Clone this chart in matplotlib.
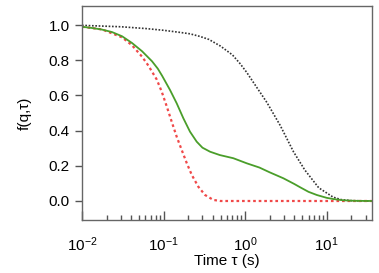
import matplotlib
matplotlib.use('Agg')
import matplotlib.pyplot as plt
import matplotlib.ticker as mticker

# values (tau in s, f(q,tau))
tau_green = [0.01, 0.0133, 0.0176, 0.0233, 0.031, 0.041, 0.0545, 0.0722, 0.085, 0.0959,
             0.12, 0.145, 0.175, 0.211, 0.255, 0.30, 0.372, 0.49, 0.718, 1.05,
             1.5, 2.0, 2.95, 4.0, 4.73, 6.0, 7.59, 10.0, 12.1, 16.0, 22.0, 36.0]
f_green = [0.99, 0.983, 0.974, 0.96, 0.936, 0.898, 0.851, 0.794, 0.752, 0.712,
           0.631, 0.555, 0.47, 0.394, 0.337, 0.303, 0.28, 0.261, 0.243, 0.214,
           0.19, 0.163, 0.129, 0.097, 0.078, 0.052, 0.034, 0.018, 0.011, 0.004, 0.001, 0.0]

tau_red = [0.01, 0.0176, 0.031, 0.041, 0.0545, 0.065, 0.0826, 0.095, 0.109, 0.126,
           0.145, 0.167, 0.193, 0.222, 0.267, 0.323, 0.408, 0.5, 36.0]
f_red = [0.99, 0.975, 0.93, 0.885, 0.82, 0.77, 0.69, 0.621, 0.54, 0.45,
         0.365, 0.29, 0.214, 0.148, 0.081, 0.034, 0.006, 0.0, 0.0]

tau_black = [0.01, 0.03, 0.06, 0.1, 0.159, 0.211, 0.28, 0.36, 0.5, 0.7, 0.87,
             1.05, 1.26, 1.85, 2.69, 3.92, 5.4, 8.0, 12.0, 15.0, 20.0, 36.0]
f_black = [0.998, 0.99, 0.98, 0.97, 0.958, 0.95, 0.935, 0.918, 0.88, 0.83, 0.78,
           0.73, 0.675, 0.56, 0.43, 0.28, 0.176, 0.075, 0.022, 0.008, 0.002, 0.0]

plt.rcParams['font.family'] = ['Liberation Sans', 'DejaVu Sans']
plt.rcParams['mathtext.fontset'] = 'custom'
plt.rcParams['mathtext.rm'] = 'Liberation Sans'

fig = plt.figure(figsize=(3.79, 2.73), dpi=100)
ax = fig.add_axes([82/379, 1-220/273, (372-82)/379, (220-6)/273])

ax.plot(tau_black, f_black, color='#333333', lw=1.2, linestyle=(0, (1, 1)))
ax.plot(tau_red, f_red, color='#f04848', lw=1.6, linestyle=(0, (1.2, 1.3)))
ax.plot(tau_green, f_green, color='#4a9e2a', lw=1.3, solid_joinstyle='round')

ax.set_xscale('log')
ax.set_xlim(0.01, 36)
ax.set_ylim(-0.108, 1.108)
ax.set_yticks([0.0, 0.2, 0.4, 0.6, 0.8, 1.0])
ax.yaxis.set_major_formatter(mticker.FormatStrFormatter('%.1f'))
ax.xaxis.set_major_locator(mticker.LogLocator(base=10, numticks=10))
ax.xaxis.set_minor_locator(mticker.LogLocator(base=10, subs=range(2, 10), numticks=10))
ax.xaxis.set_minor_formatter(mticker.NullFormatter())

for s in ax.spines.values():
    s.set_color('#666666')
    s.set_linewidth(1.0)

ax.tick_params(axis='x', which='major', direction='in', length=6.5, width=1,
               color='#555555', pad=11, labelsize=11)
ax.tick_params(axis='x', which='minor', direction='in', length=3.5, width=1,
               color='#555555')
ax.tick_params(axis='y', which='major', direction='out', length=5, width=1,
               color='#555555', pad=4, labelsize=11)

ax.set_xlabel('Time τ (s)', fontsize=11, labelpad=0)
ax.set_ylabel('f(q,τ)', fontsize=11, labelpad=12)

fig.savefig('out.png', dpi=100)
